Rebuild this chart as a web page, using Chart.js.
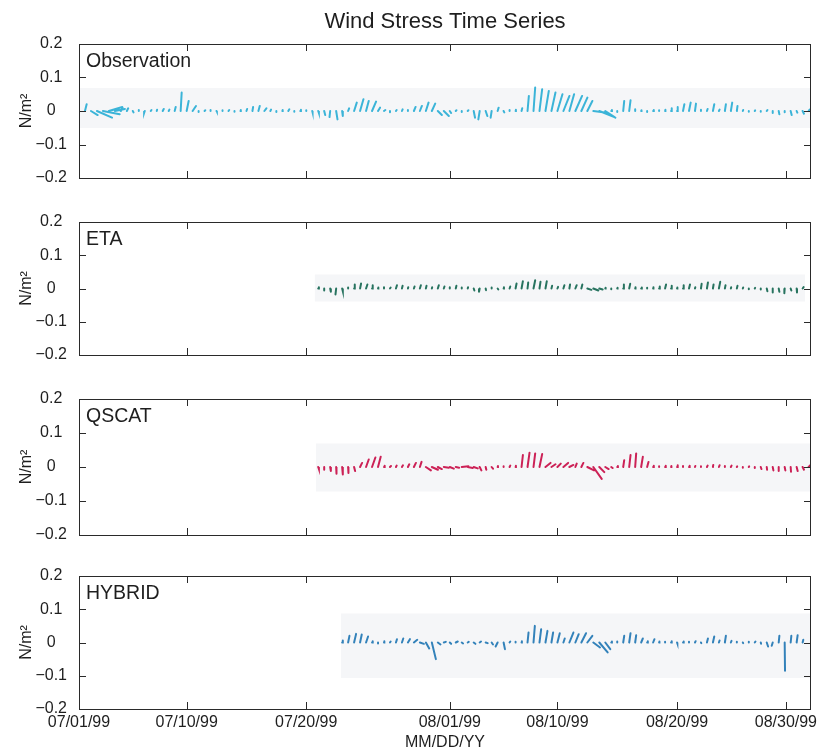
<!DOCTYPE html>
<html>
<head>
<meta charset="utf-8">
<script src="https://cdn.jsdelivr.net/npm/chart.js@4.4.1/dist/chart.umd.min.js"></script>
<style>
html,body{margin:0;padding:0;background:#fff;}
#wrap{position:relative;width:817px;height:752px;overflow:hidden;background:#fff;}
.panel{position:absolute;left:0;width:817px;}
</style>
</head>
<body>
<div id="wrap">
  <div class="panel" style="top:0px;height:190px"><canvas id="c0"></canvas></div>
  <div class="panel" style="top:208px;height:159px"><canvas id="c1"></canvas></div>
  <div class="panel" style="top:385px;height:162px"><canvas id="c2"></canvas></div>
  <div class="panel" style="top:562px;height:190px"><canvas id="c3"></canvas></div>
</div>
<script>
// ---------------- DATA ----------------
const chartTitle = 'Wind Stress Time Series';
const xAxisTitle = 'MM/DD/YY';
const yAxisTitle = 'N/m\u00B2';
// x axis: days since 07/01/99
const xTickDays   = [0, 9, 19, 31, 40, 50, 59.1];
const xTickLabels = ['07/01/99', '07/10/99', '07/20/99', '08/01/99', '08/10/99', '08/20/99', '08/30/99'];
const yTickValues = [-0.2, -0.1, 0, 0.1, 0.2];
const yTickLabels = ['\u22120.2', '\u22120.1', '0', '0.1', '0.2'];
const seriesNames = ['Observation', 'ETA', 'QSCAT', 'HYBRID'];
// start day of each record and sampling step (days)
const seriesStart = [0, 20, 20, 22];
const sampleStep = 0.5;

// wind stress components (N/m^2): u = east, v = north
const obsU = [0,0.005,0.02,0.045,0.05,0.04,0.03,0.005,0.004,0.002,
  0,-0.002,0.002,0.001,0.003,0.002,0.003,0.003,0.006,0.01,
  0,0.002,0,0.001,0,0.002,0,0.001,0.002,0.002,
  0.004,0.006,0.002,0,0.001,0.003,0,0.002,0,0.001,
  0.002,0.003,-0.002,0.004,0.002,0.003,0.008,0.01,0.008,0.012,
  0.006,0.004,0,0.002,0.002,0,0.005,0.006,0.008,0.01,
  0.012,0.015,0.004,0.002,0,0.002,0.004,-0.004,0.005,-0.003,
  0.003,0.002,0,0.001,0.002,0.004,0.005,0.008,0.01,0.012,
  0.015,0.018,0.014,0.02,0.018,0.015,0.04,0.045,0.03,0.002,
  0,0.003,0.004,0,0.001,0,0.002,0,0.001,0.002,
  0.002,0.004,0.005,0.003,0,0.002,0.004,0.002,0.003,0.004,
  0.002,0.001,0,0.001,0,0.002,0,0.002,0,0.003,
  0.002,0.004,0.003];
const obsV = [0.015,0.02,-0.012,-0.02,-0.01,0.012,0.006,0.01,0.008,-0.004,
  0.003,-0.006,0.003,0.004,0.006,0.004,0.012,0.055,0.03,0.015,
  -0.003,0.002,0.003,-0.002,0.002,0.003,-0.002,0.003,0.006,0.012,
  0.015,0.008,0.004,-0.003,0.003,0.005,-0.002,0.004,0.002,-0.004,
  -0.006,-0.012,-0.018,-0.025,-0.015,0.008,0.025,0.035,0.03,0.028,
  0.01,0.003,-0.004,0.003,0.005,0.003,0.012,0.015,0.025,0.022,
  -0.012,-0.015,-0.006,0.002,-0.003,0.002,-0.02,-0.025,-0.015,-0.02,
  0.01,-0.004,0.003,0.004,0.008,0.045,0.07,0.065,0.06,0.055,
  0.05,0.045,0.05,0.045,0.04,0.03,-0.005,-0.018,-0.02,0.003,
  -0.003,0.03,0.032,0.005,0.002,-0.003,0.003,0.002,0.004,0.008,
  0.012,0.02,0.025,0.022,0.004,0.006,0.02,0.004,0.02,0.025,
  0.015,0.003,-0.002,0.002,-0.002,0.003,-0.006,-0.01,-0.004,-0.012,
  -0.005,-0.008,0.004];

const etaU = [0.002,0,0.002,-0.002,0.002,0,0.002,0.003,0.004,0.002,
  0.001,0,0.002,0.003,0.002,0.001,0.002,0.003,0.002,0.001,
  0.003,0.002,0,0.002,0,0.001,0.002,-0.002,0.001,0,
  0.002,0.001,0.002,0.003,0.004,0.002,0.005,0.003,0.004,0.002,
  0.002,0.003,0.002,0.004,0.003,0.012,0.015,0.01,0.001,0,
  0.001,0.002,0.003,0.001,0.002,0,0.001,0.002,0.003,0.002,
  0.001,0.002,0.003,0.001,0.002,0.003,0.002,0.004,0.002,0.001,
  0.002,0.001,0,0.001,0,0.002,0,0.002,-0.001,0.002,
  0.001,0.003];
const etaV = [0.004,-0.006,-0.01,-0.018,-0.008,0.003,0.012,0.015,0.012,0.01,
  0.003,0.004,0.003,0.01,0.008,0.004,0.006,0.01,0.008,0.004,
  0.01,0.006,0.004,0.008,0.003,0.004,-0.006,-0.01,-0.005,0.003,
  -0.003,0.004,0.006,0.015,0.022,0.018,0.025,0.02,0.022,0.008,
  0.005,0.01,0.012,0.01,0.012,-0.004,-0.006,-0.003,0.002,-0.002,
  0.002,0.012,0.014,0.004,0.003,0.002,0.004,0.006,0.012,0.008,
  0.003,0.01,0.012,0.004,0.014,0.018,0.012,0.02,0.01,0.004,
  0.008,0.003,-0.002,0.002,-0.003,-0.008,-0.012,-0.01,-0.014,-0.006,
  -0.012,0.004];

const qscatU = [0.002,0,0.002,0.001,0.002,0.001,0.003,0.006,0.008,0.01,
  0.008,0.002,0.003,0.002,0.003,0.004,0.006,0.005,0.015,0.018,
  0.012,0.015,0.012,0.01,0.02,0.015,0.012,0.005,0.002,0.004,
  0.001,0,0.002,0.001,0.004,0.006,0.005,0.008,0.015,0.012,
  0.01,0.014,0.012,0.004,0.006,0.02,0.025,0.015,0.01,0.004,
  0.002,0.003,0.004,0.003,0.005,0.004,0.002,0,0.002,0.001,
  0.002,0,0.002,0.001,0,0.002,0.001,0.002,0,0.002,
  0.001,0,0.001,0,0.002,0.001,0.002,0,0.002,0.001,
  0.003,0.004,0.006];
const qscatV = [-0.006,-0.008,-0.012,-0.02,-0.022,-0.018,-0.012,0.012,0.022,0.028,
  0.03,0.004,0.003,0.004,0.005,0.008,0.012,0.015,-0.01,-0.008,
  -0.006,-0.002,-0.005,-0.002,0.002,-0.003,-0.004,-0.01,-0.008,-0.005,
  0.003,0.002,0.004,0.004,0.035,0.042,0.04,0.038,0.012,0.008,
  0.01,0.012,0.006,0.01,0.012,-0.01,-0.035,-0.015,-0.006,-0.003,
  0.003,0.02,0.035,0.04,0.03,0.015,0.004,0.002,0.004,0.003,
  0.005,0.003,0.004,0.003,0.002,0.004,0.006,0.005,0.003,0.004,
  0.002,-0.002,0.002,-0.003,-0.006,-0.008,-0.01,-0.012,-0.01,-0.014,
  -0.012,-0.008,0.006];

const hybridU = [0.002,0.004,0.006,0.005,0.006,0.002,0,0.001,0.002,0.003,
  0.004,0.006,0.01,0.012,0.01,0.012,0.008,0.006,0.004,0.006,
  0.004,0.003,0.005,0.004,0.006,0.004,-0.006,0.004,0.002,0,
  0.001,0.003,0.004,0.005,0.006,0.005,0.007,0.004,0.012,0.01,
  0.014,0.015,0.02,0.025,0.015,0.002,0,0.003,0.004,0.003,
  0.005,0.002,0.004,0.001,0,0.002,0.001,0.002,0,0.002,
  0.001,0.003,0.004,0.002,0.003,0.002,0,0.001,0,0.002,
  0.001,0.004,-0.003,0.002,0.001,0.002,0.003,0.002];
const hybridV = [0.006,0.02,0.026,0.024,0.018,0.004,-0.003,0.004,0.003,0.01,
  0.012,0.01,0.008,-0.004,-0.018,-0.05,-0.006,0.002,-0.004,0.003,
  -0.003,0.002,-0.004,0.003,-0.002,-0.006,-0.012,-0.02,0.003,0.002,
  0.004,0.03,0.05,0.04,0.035,0.03,0.028,0.012,0.03,0.025,
  0.028,0.02,-0.015,-0.03,-0.02,0.003,0.003,0.02,0.028,0.022,
  0.012,0.004,0.01,0.003,0.002,0.004,-0.003,0.003,0.002,0.004,
  -0.002,0.012,0.018,0.006,0.02,0.005,0.002,-0.002,0.002,0.003,
  -0.004,-0.012,-0.01,0.02,-0.085,0.02,0.022,0.008];

// faint pasted-image background strips behind each record (data units)
const bandStart  = [0, 19.7, 19.8, 21.9];
const bandEnd    = [61.2, 60.7, 61.2, 61.2];
const bandTop    = [0.069, 0.042, 0.069, 0.087];
const bandBottom = [-0.051, -0.039, -0.072, -0.107];

// ---------------- STYLE / LAYOUT ----------------
const X_MAX = 61.2;
const STICK_SCALE = 28; // days of x per N/m^2 so sticks keep true direction
const seriesColors = ['#3bb4d8', '#27735f', '#cc2156', '#3382ba'];
const bandColor = '#f5f6f8';
const FONT = '"Liberation Sans", Arial, Helvetica, sans-serif';
const TXT = '#1e1e1e';
const layouts = [
  {padTop: 0,  h: 134, xh: 12, title: true,  labels: false},
  {padTop: 14, h: 133, xh: 12, title: false, labels: false},
  {padTop: 14, h: 134, xh: 12, title: false, labels: false},
  {padTop: 14, h: 133, xh: 43, title: false, labels: true}
];
const allU = [obsU, etaU, qscatU, hybridU];
const allV = [obsV, etaV, qscatV, hybridV];

function sticks(start, u, v) {
  const pts = [];
  u.forEach((uu, i) => {
    const t = start + i * sampleStep;
    pts.push({x: t, y: 0}, {x: t + uu * STICK_SCALE, y: v[i]}, {x: t, y: null});
  });
  return pts;
}

const framePlugin = {
  id: 'frame',
  afterDatasetsDraw(chart, args, opts) {
    const {ctx, chartArea: a} = chart;
    const xs = chart.scales.x, ys = chart.scales.y;
    ctx.save();
    ctx.strokeStyle = '#2a2a2a';
    ctx.lineWidth = 1;
    ctx.strokeRect(Math.round(a.left) + 0.5, Math.round(a.top) + 0.5,
                   Math.round(a.right - a.left) - 1, Math.round(a.bottom - a.top));
    ctx.beginPath();
    xTickDays.forEach(d => {
      const px = Math.round(xs.getPixelForValue(d)) + 0.5;
      ctx.moveTo(px, a.bottom); ctx.lineTo(px, a.bottom - 7);
      ctx.moveTo(px, a.top); ctx.lineTo(px, a.top + 7);
    });
    yTickValues.forEach(v => {
      const py = Math.round(ys.getPixelForValue(v)) + 0.5;
      ctx.moveTo(a.left, py); ctx.lineTo(a.left + 7, py);
      ctx.moveTo(a.right, py); ctx.lineTo(a.right - 7, py);
    });
    ctx.stroke();
    ctx.fillStyle = TXT;
    ctx.font = '19.5px ' + FONT;
    ctx.textBaseline = 'middle';
    ctx.textAlign = 'left';
    ctx.fillText(opts.name, a.left + 7, a.top + 18);
    ctx.restore();
  }
};

function makeChart(k) {
  const L = layouts[k];
  const tickFont = {family: FONT, size: 16};
  new Chart(document.getElementById('c' + k), {
    type: 'scatter',
    data: {
      datasets: [
        {
          label: seriesNames[k],
          data: sticks(seriesStart[k], allU[k], allV[k]),
          showLine: true, spanGaps: false,
          borderColor: seriesColors[k], borderWidth: 2, borderCapStyle: 'round',
          pointRadius: 0, pointHoverRadius: 0, order: 1
        },
        {
          label: 'band',
          data: [{x: bandStart[k], y: bandTop[k]}, {x: bandEnd[k], y: bandTop[k]}],
          showLine: true, borderWidth: 0, pointRadius: 0,
          backgroundColor: bandColor, fill: {value: bandBottom[k]}, order: 2
        }
      ]
    },
    options: {
      responsive: true, maintainAspectRatio: false, animation: false,
      layout: {padding: {top: L.padTop, right: 6, left: 0, bottom: 0}},
      plugins: {
        legend: {display: false}, tooltip: {enabled: false},
        title: {display: L.title, text: chartTitle, color: TXT, fullSize: false,
                font: {family: FONT, size: 22, weight: 'normal'}, padding: {top: 9, bottom: 8.6}},
        frame: {name: seriesNames[k]}
      },
      scales: {
        x: {
          type: 'linear', min: 0, max: X_MAX,
          afterBuildTicks: s => { s.ticks = xTickDays.map(v => ({value: v})); },
          ticks: {display: L.labels, autoSkip: false, maxRotation: 0, padding: 4,
                  color: TXT, font: tickFont, callback: (v, i) => xTickLabels[i]},
          grid: {display: false, drawTicks: false}, border: {display: false},
          title: {display: L.labels, text: xAxisTitle, color: TXT, font: tickFont, padding: 0},
          afterFit: s => { s.height = L.xh; s.paddingLeft = 0; s.paddingRight = 0; }
        },
        y: {
          min: -0.2, max: 0.2,
          afterBuildTicks: s => { s.ticks = yTickValues.map(v => ({value: v})); },
          ticks: {crossAlign: 'center', padding: 12, color: TXT, font: tickFont,
                  callback: (v, i) => yTickLabels[i]},
          grid: {display: false, drawTicks: false}, border: {display: false},
          title: {display: true, text: yAxisTitle, color: TXT, font: tickFont, padding: {top: 17, bottom: 0}},
          afterFit: s => { s.width = 79; s.paddingTop = 0; s.paddingBottom = 0; }
        }
      }
    },
    plugins: [framePlugin]
  });
}
[0, 1, 2, 3].forEach(makeChart);
</script>
</body>
</html>
